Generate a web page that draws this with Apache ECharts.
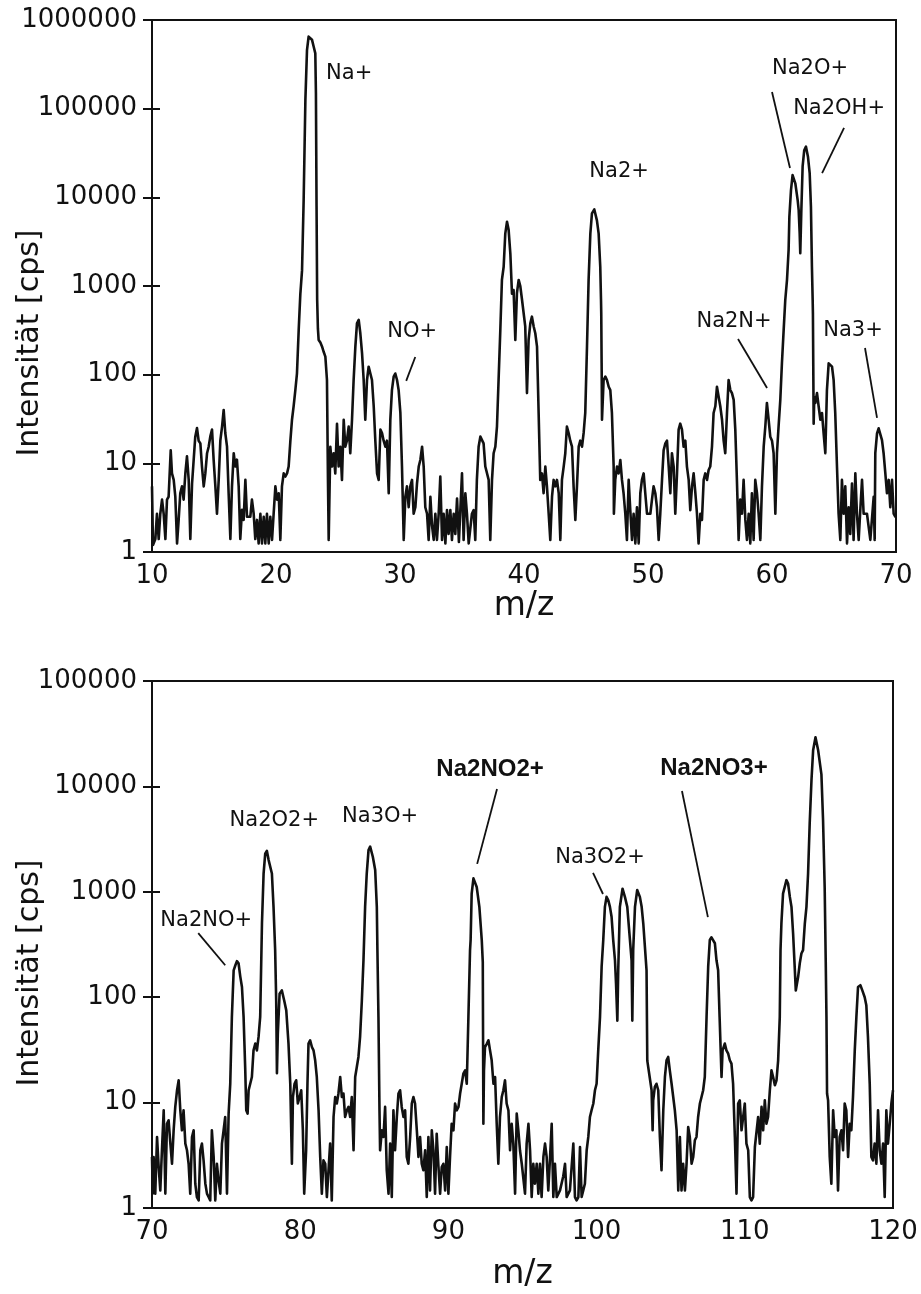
<!DOCTYPE html>
<html>
<head>
<meta charset="utf-8">
<title>SIMS-Spektrum</title>
<script src="https://cdn.jsdelivr.net/npm/echarts@6/dist/echarts.min.js"></script>
<style>
  html, body { margin: 0; padding: 0; background: #fff; }
  #chart { width: 921px; height: 1294px; }
</style>
</head>
<body>
<div id="chart"></div>
<script>
// Spectrum m/z 10–70: [m/z, intensity in cps]
const topSpectrum = [
  [10.00,5.5],[10.08,1.2],[10.27,1.4],[10.40,2.7],[10.54,1.4],[10.67,2.7],[10.81,3.9],[10.94,2.7],
  [11.08,1.4],[11.21,3.9],[11.34,4.2],[11.51,14],[11.61,7.7],[11.75,6.5],[11.88,4.2],[12.02,1.25],
  [12.15,2.3],[12.28,4.6],[12.42,5.5],[12.55,3.9],[12.69,7.7],[12.82,12],[12.96,6.5],[13.09,1.4],
  [13.23,5.9],[13.36,10.9],[13.49,20],[13.63,25],[13.76,18],[13.90,16.8],[14.03,9.2],[14.17,5.5],
  [14.30,7.7],[14.44,13],[14.57,15.4],[14.70,20],[14.84,24],[14.97,11],[15.11,5.5],[15.24,2.7],
  [15.38,6.5],[15.51,18],[15.65,26],[15.78,40],[15.91,22],[16.05,15.4],[16.18,4.6],[16.32,1.4],
  [16.45,5.5],[16.59,13],[16.72,9.2],[16.85,11],[16.99,5.5],[17.12,1.4],[17.26,3],[17.39,2.3],
  [17.53,6.5],[17.66,2.5],[17.93,2.5],[18.06,3.9],[18.20,2.7],[18.33,1.4],[18.47,2.3],[18.60,1.25],
  [18.74,2.7],[18.87,1.25],[19.01,2.5],[19.14,1.25],[19.27,2.7],[19.41,1.25],[19.54,2.5],[19.68,1.37],
  [19.81,2.7],[19.95,5.5],[20.08,3.9],[20.22,4.6],[20.35,1.37],[20.48,5.5],[20.62,7.7],[20.75,7.1],
  [20.89,7.7],[21.02,9.2],[21.16,18],[21.29,31],[21.42,44],[21.56,67],[21.69,103],[21.83,318],
  [21.96,800],[22.10,1500],[22.23,9300],[22.37,126000],[22.50,457000],[22.63,650000],[22.77,676000],
  [22.90,600000],[23.04,500000],[23.17,420000],[23.22,150000],[23.27,8000],[23.32,700],[23.38,330],
  [23.44,246],[23.58,230],[23.71,208],[23.85,180],[23.98,160],[24.11,87],[24.19,6.5],[24.25,1.37],
  [24.38,15.4],[24.52,9.2],[24.65,13],[24.78,7.7],[24.92,28],[25.05,9.2],[25.19,15.4],[25.32,6.5],
  [25.46,31],[25.59,15.4],[25.72,18],[25.86,26],[25.99,13],[26.13,31],[26.26,87],[26.40,207],
  [26.53,379],[26.67,414],[26.80,293],[26.94,174],[27.07,87],[27.20,31],[27.34,87],[27.47,123],
  [27.61,103],[27.74,87],[27.88,44],[28.01,18],[28.15,7.7],[28.28,6.5],[28.42,24],[28.55,22],
  [28.68,18],[28.82,15.4],[28.95,18],[29.09,4.6],[29.22,31],[29.35,67],[29.49,95],[29.62,103],
  [29.76,87],[29.89,67],[30.03,37],[30.16,9.2],[30.30,1.37],[30.43,4.2],[30.56,5.5],[30.70,3.2],
  [30.83,5.5],[30.97,6.5],[31.10,2.7],[31.24,3.2],[31.37,5.9],[31.51,9.2],[31.64,10.9],[31.78,15.4],
  [31.91,9.2],[32.04,3.2],[32.18,2.7],[32.31,1.37],[32.45,4.2],[32.58,2],[32.72,1.37],[32.85,2.7],
  [32.98,1.37],[33.12,2.7],[33.25,7.1],[33.39,1.37],[33.52,2.7],[33.66,1.25],[33.79,2.97],[33.92,1.6],
  [34.06,2.97],[34.19,1.37],[34.33,2.7],[34.46,1.6],[34.60,4],[34.75,1.3],[35.00,7.7],[35.13,1.37],
  [35.27,4.6],[35.40,2.7],[35.54,1.25],[35.80,2.7],[35.94,2.97],[36.07,1.37],[36.20,6.5],[36.34,15.4],
  [36.48,20],[36.61,20],[36.74,16.8],[36.88,9.2],[37.01,9.2],[37.15,6.5],[37.28,1.37],[37.42,6.5],
  [37.55,13],[37.69,15.4],[37.82,26],[37.95,87],[38.09,318],[38.22,1170],[38.36,1650],[38.49,3900],
  [38.63,5300],[38.76,4300],[38.90,2300],[39.03,820],[39.16,900],[39.30,246],[39.43,830],[39.57,1170],
  [39.70,1000],[39.84,700],[39.97,695],[40.10,350],[40.24,62],[40.37,246],[40.51,379],[40.64,451],
  [40.78,350],[40.91,293],[41.05,207],[41.18,37],[41.31,6.5],[41.45,7.7],[41.58,4.6],[41.72,9.2],
  [41.85,5.5],[41.99,2.7],[42.12,1.37],[42.26,4.2],[42.39,6.5],[42.53,5.5],[42.66,6.5],[42.80,4.6],
  [42.93,1.37],[43.06,6.5],[43.20,9.2],[43.33,13],[43.46,26],[43.60,22],[43.73,18],[43.87,15.4],
  [44.00,5.5],[44.14,2.3],[44.27,5.5],[44.41,15.4],[44.54,18],[44.68,15.4],[44.81,22],[44.94,37],
  [45.08,207],[45.21,1170],[45.35,3900],[45.48,6600],[45.67,7300],[45.88,5500],[46.02,3900],[46.15,1650],
  [46.21,700],[46.23,490],[46.26,135],[46.29,31],[46.42,87],[46.56,95],[46.69,87],[46.83,73],
  [46.96,67],[47.09,37],[47.23,9.2],[47.25,2.7],[47.36,6.5],[47.50,9.2],[47.63,7.7],[47.77,10.9],
  [47.90,6.5],[48.03,4.6],[48.17,2.7],[48.30,1.37],[48.44,6.5],[48.57,2.97],[48.71,1.37],[48.84,2.7],
  [48.98,1.25],[49.11,3.2],[49.25,1.25],[49.38,4.6],[49.51,6.5],[49.65,7.7],[49.78,4.6],[49.92,2.7],
  [50.05,2.7],[50.19,2.7],[50.32,3.9],[50.45,5.5],[50.59,4.6],[50.72,3.2],[50.86,1.37],[50.99,2.7],
  [51.13,6.5],[51.26,14],[51.40,16.8],[51.53,18],[51.67,9.2],[51.80,4.6],[51.93,13],[52.07,9.2],
  [52.20,2.7],[52.34,7.7],[52.47,24],[52.60,28],[52.74,24],[52.87,15.4],[53.01,18],[53.14,9.2],
  [53.28,6.5],[53.41,2.97],[53.55,5.5],[53.68,7.7],[53.82,4.6],[53.95,2.7],[54.08,1.25],[54.22,2.7],
  [54.35,2.3],[54.49,6.5],[54.62,7.7],[54.76,6.5],[54.89,8.4],[55.02,9.2],[55.16,15.4],[55.29,37],
  [55.43,44],[55.56,73],[55.70,56],[55.83,44],[55.97,31],[56.10,18],[56.23,13],[56.37,37],
  [56.50,87],[56.64,67],[56.77,62],[56.91,52],[57.04,24],[57.17,6.5],[57.31,1.37],[57.44,3.9],
  [57.58,2.7],[57.71,6.5],[57.85,2.3],[57.98,1.37],[58.12,2.7],[58.25,1.25],[58.38,4.6],[58.52,1.37],
  [58.65,6.5],[58.79,4.6],[58.92,2.7],[59.06,1.37],[59.19,5.5],[59.33,15.4],[59.46,26],[59.59,48],
  [59.73,31],[59.86,20],[60.00,18],[60.13,13],[60.27,2.7],[60.40,13],[60.53,26],[60.67,52],
  [60.80,134],[60.94,318],[61.07,695],[61.21,1170],[61.34,2560],[61.40,6000],[61.53,12000],[61.66,17800],
  [61.88,14400],[62.07,9300],[62.15,7200],[62.23,4000],[62.28,2340],[62.36,6600],[62.47,22300],[62.60,34000],
  [62.74,37300],[62.90,28700],[63.04,18600],[63.14,7800],[63.22,1650],[63.28,695],[63.30,490],[63.36,28],
  [63.41,56],[63.49,48],[63.63,62],[63.76,44],[63.90,31],[64.03,37],[64.16,22],[64.30,13],
  [64.43,67],[64.57,134],[64.70,140],[64.84,123],[64.97,87],[65.10,37],[65.24,9.2],[65.37,2.7],
  [65.51,1.37],[65.64,6.5],[65.78,2.7],[65.91,5.5],[66.05,1.25],[66.18,3.2],[66.31,1.6],[66.45,5.9],
  [66.58,1.37],[66.72,7.7],[66.85,2.7],[66.99,1.37],[67.12,2.97],[67.26,6.5],[67.39,2.7],[67.52,2.7],
  [67.66,2.7],[67.93,1.37],[68.20,4.2],[68.28,1.37],[68.33,13],[68.47,21.8],[68.60,24.8],[68.74,23.8],
  [68.87,18.3],[69.00,13],[69.14,7.7],[69.27,4.6],[69.41,6.5],[69.54,3.2],[69.68,6.5],[69.81,2.7],
  [69.94,2.5],[70.00,2.5]
];

// Spectrum m/z 70–120: [m/z, intensity in cps]
const bottomSpectrum = [
  [70.00,3.05],[70.05,1.37],[70.11,3.05],[70.22,1.37],[70.34,4.72],[70.45,2.45],[70.56,1.47],[70.67,3.53],
  [70.79,8.45],[70.90,1.37],[71.01,6.3],[71.12,6.8],[71.24,4.08],[71.35,2.63],[71.46,5.46],[71.57,9.1],
  [71.69,13.1],[71.80,16.3],[71.91,8.45],[72.02,5.46],[72.13,8.45],[72.25,4.08],[72.36,3.53],[72.47,2.63],
  [72.58,1.37],[72.70,4.72],[72.81,5.46],[72.92,1.7],[73.03,1.27],[73.15,1.18],[73.26,3.53],[73.37,4.08],
  [73.48,2.83],[73.60,1.7],[73.71,1.37],[73.82,1.27],[73.93,1.18],[74.04,5.46],[74.16,3.05],[74.27,1.18],
  [74.38,2.63],[74.49,1.83],[74.61,1.37],[74.72,4.08],[74.83,5.46],[74.94,7.3],[75.06,1.37],[75.17,7.86],
  [75.28,15.1],[75.39,65],[75.51,180],[75.62,200],[75.73,220],[75.84,210],[75.96,156],[76.07,125],
  [76.18,65],[76.29,21],[76.36,8.45],[76.45,7.86],[76.52,13.1],[76.63,13.1],[76.74,17.5],[76.85,31.3],
  [76.97,36.3],[77.08,31.3],[77.19,42],[77.30,65],[77.42,500],[77.53,1490],[77.64,2300],[77.75,2450],
  [77.87,2000],[78.09,1490],[78.20,720],[78.31,280],[78.38,93],[78.43,19],[78.49,45],[78.61,108],
  [78.76,116],[78.92,93],[79.06,75],[79.21,36.3],[79.33,15.1],[79.44,2.63],[79.51,11.3],[79.62,15.1],
  [79.73,16.3],[79.84,9.8],[79.96,11.3],[80.07,13.1],[80.18,5.46],[80.27,1.37],[80.40,3.53],[80.49,15.1],
  [80.56,36.3],[80.67,39],[80.79,33.7],[80.90,31.3],[81.01,25.2],[81.12,17.5],[81.24,8.45],[81.35,3.05],
  [81.46,1.37],[81.57,2.83],[81.69,2.63],[81.80,1.27],[81.91,1.27],[82.02,4.08],[82.13,1.18],[82.25,7.3],
  [82.36,11.3],[82.47,9.8],[82.58,12.2],[82.70,17.5],[82.81,11.3],[82.92,12.2],[83.03,7.3],[83.15,8.45],
  [83.26,9.1],[83.37,7.3],[83.48,11.3],[83.60,3.53],[83.71,17.5],[83.82,21.8],[83.93,27.1],[84.04,42],
  [84.16,93],[84.27,225],[84.38,720],[84.49,1490],[84.61,2490],[84.72,2680],[84.90,2150],[85.06,1610],
  [85.17,720],[85.21,280],[85.28,65],[85.35,8.45],[85.39,3.53],[85.51,5.46],[85.62,4.72],[85.73,9.1],
  [85.84,2.28],[85.96,1.37],[86.07,4.08],[86.18,1.27],[86.29,8.45],[86.40,3.53],[86.52,7.3],[86.63,12.2],
  [86.74,13.1],[86.85,9.1],[86.97,7.3],[87.08,8.45],[87.19,3.05],[87.30,2.63],[87.42,4.72],[87.53,9.8],
  [87.64,11.3],[87.75,9.8],[87.87,5.46],[87.98,3.05],[88.09,4.72],[88.20,2.63],[88.31,2.28],[88.43,3.53],
  [88.54,1.27],[88.65,4.72],[88.76,1.47],[88.88,5.46],[88.99,3.53],[89.10,1.37],[89.21,5.07],[89.33,2.45],
  [89.44,1.37],[89.55,2.45],[89.66,2.63],[89.78,1.47],[89.89,3.79],[90.00,1.37],[90.11,3.05],[90.22,6.3],
  [90.34,5.46],[90.45,9.8],[90.56,8.45],[90.68,9.1],[90.79,12.2],[90.90,15.1],[91.01,18.8],[91.13,20.2],
  [91.24,15.1],[91.35,65],[91.46,280],[91.50,350],[91.57,960],[91.69,1340],[91.80,1380],[91.91,1110],
  [92.09,720],[92.25,350],[92.32,215],[92.36,6.3],[92.40,20],[92.47,33.7],[92.60,36.3],[92.70,39],
  [92.81,31.3],[92.92,25.2],[93.04,15.1],[93.15,17.5],[93.26,6.3],[93.37,2.63],[93.48,7.3],[93.60,11.3],
  [93.71,13.1],[93.82,16.3],[93.93,9.8],[94.05,8.45],[94.16,3.53],[94.27,6.3],[94.38,4.08],[94.50,1.37],
  [94.61,7.86],[94.72,5.46],[94.83,3.53],[94.95,2.63],[95.06,2.63],[95.17,1.37],[95.28,4.08],[95.40,6.3],
  [95.51,3.53],[95.62,1.27],[95.73,2.63],[95.84,1.7],[95.96,2.63],[96.07,1.37],[96.18,2.63],[96.29,1.27],
  [96.41,3.05],[96.52,4.08],[96.63,3.05],[96.74,1.47],[96.86,3.05],[96.97,6.3],[97.08,1.27],[97.19,2.63],
  [97.31,1.27],[97.42,1.27],[97.53,1.47],[97.75,2.0],[97.87,2.63],[97.98,1.27],[98.20,1.47],[98.43,4.08],
  [98.54,1.27],[98.65,1.18],[98.77,1.27],[98.88,3.79],[98.99,1.27],[99.10,1.47],[99.21,1.7],[99.33,3.53],
  [99.44,4.72],[99.55,7.3],[99.66,8.45],[99.78,9.8],[99.89,13.1],[100.00,15.1],[100.11,31.3],[100.23,65],
  [100.34,195],[100.45,350],[100.56,720],[100.67,895],[100.79,830],[100.90,720],[101.01,580],[101.12,350],
  [101.24,224],[101.31,135],[101.40,60],[101.46,180],[101.57,720],[101.75,1070],[101.91,895],[102.07,720],
  [102.25,350],[102.36,224],[102.41,60],[102.47,280],[102.59,720],[102.74,1040],[102.92,895],[103.04,720],
  [103.15,500],[103.26,300],[103.37,180],[103.42,25],[103.71,13.1],[103.78,5.46],[103.82,10.5],[103.93,14.1],
  [104.04,15.1],[104.16,13.1],[104.27,4.72],[104.38,2.28],[104.50,8.45],[104.61,17.5],[104.72,25.2],[104.83,27.1],
  [104.94,20.2],[105.06,15.1],[105.17,11.3],[105.28,8.45],[105.40,5.46],[105.51,1.47],[105.62,4.72],[105.73,1.47],
  [105.84,2.63],[105.96,1.47],[106.07,2.63],[106.18,5.87],[106.29,4.72],[106.41,2.63],[106.52,3.05],[106.63,4.39],
  [106.74,4.72],[106.85,7.3],[106.97,9.8],[107.08,11.3],[107.19,13.1],[107.30,17.5],[107.42,65],[107.53,195],
  [107.64,350],[107.75,370],[107.87,370],[107.98,325],[108.09,224],[108.20,180],[108.30,65],[108.43,17.5],
  [108.50,31.3],[108.65,36.3],[108.76,31.3],[108.88,29.1],[108.99,25.2],[109.10,23.4],[109.21,15.1],[109.33,4.72],
  [109.44,1.37],[109.55,9.8],[109.66,10.5],[109.78,5.46],[109.89,5.46],[110.00,9.8],[110.11,4.08],[110.23,3.53],
  [110.34,1.27],[110.45,1.18],[110.56,1.27],[110.68,3.79],[110.79,3.79],[110.90,7.3],[111.01,4.08],[111.13,9.1],
  [111.24,5.46],[111.35,10.5],[111.46,6.3],[111.57,7.3],[111.69,13.1],[111.80,20.2],[111.91,17.5],[112.03,14.6],
  [112.14,16.3],[112.25,25.2],[112.36,65],[112.41,280],[112.47,500],[112.58,960],[112.81,1290],[112.92,1200],
  [113.04,895],[113.15,720],[113.26,400],[113.37,190],[113.44,116],[113.60,156],[113.71,210],[113.82,260],
  [113.93,280],[114.05,500],[114.16,720],[114.27,1490],[114.38,4500],[114.50,11500],[114.61,22000],[114.77,29300],
  [114.95,22000],[115.17,13000],[115.28,4800],[115.39,1100],[115.46,224],[115.51,65],[115.55,12.2],[115.62,10.5],
  [115.73,3.05],[115.84,1.7],[115.96,8.45],[116.07,4.72],[116.18,5.46],[116.29,1.47],[116.40,4.72],[116.52,5.46],
  [116.63,3.53],[116.74,9.8],[116.85,8.45],[116.97,3.05],[117.08,6.3],[117.19,5.46],[117.30,11.3],[117.42,31.3],
  [117.53,65],[117.64,125],[117.80,130],[117.93,116],[118.09,100],[118.20,84],[118.31,42],[118.43,15.1],
  [118.54,3.05],[118.65,2.83],[118.76,4.08],[118.88,2.63],[118.99,8.45],[119.10,3.53],[119.22,2.63],[119.33,4.08],
  [119.44,1.27],[119.55,8.45],[119.66,4.08],[119.78,6.3],[119.89,9.8],[120.00,13.1]
];

// Axis ranges and tick labels
const topXRange = [10, 70];
const bottomXRange = [70, 120];
const topYTicks = [1, 10, 100, 1000, 10000, 100000, 1000000];
const bottomYTicks = [1, 10, 100, 1000, 10000, 100000];
const xName = 'm/z';
const yName = 'Intensität [cps]';

// Peak labels: [text, m/z, intensity, bold]
const topPeakLabels = [
  ['Na+', 25.9, 245000, false],
  ['NO+', 30.98, 302, false],
  ['Na2+', 47.67, 19300, false],
  ['Na2O+', 63.07, 280000, false],
  ['Na2OH+', 65.41, 99100, false],
  ['Na2N+', 56.94, 393, false],
  ['Na3+', 66.53, 311, false]
];
const bottomPeakLabels = [
  ['Na2NO+', 73.66, 527, false],
  ['Na2O2+', 78.25, 4690, false],
  ['Na3O+', 85.39, 5120, false],
  ['Na2NO2+', 92.81, 14300, true],
  ['Na3O2+', 100.23, 2090, false],
  ['Na2NO3+', 107.92, 14600, true]
];

// Leader lines from a label towards its peak: [[m/z, cps], [m/z, cps]]
const topLeaders = [
  [[31.23, 158], [30.5, 85]],
  [[60.0, 154000], [61.45, 21400]],
  [[65.81, 60700], [64.04, 18800]],
  [[57.26, 253], [59.6, 70.7]],
  [[67.5, 200], [68.47, 32.5]]
];
const bottomLeaders = [
  [[73.12, 406], [74.94, 201]],
  [[93.28, 9460], [91.94, 1840]],
  [[99.76, 1510], [100.43, 953]],
  [[105.76, 9040], [107.51, 575]]
];

const INK = '#111';
const FONT = 'DejaVu Sans';

function xAxisFor(gridIndex, range, nameGap) {
  return {
    type: 'value', gridIndex, min: range[0], max: range[1], interval: 10,
    name: xName, nameLocation: 'middle', nameGap,
    nameTextStyle: { fontFamily: FONT, fontSize: 33, color: INK },
    axisLine: { show: true, onZero: false, lineStyle: { color: INK, width: 2 } },
    axisTick: { show: false },
    splitLine: { show: false },
    axisLabel: { color: INK, fontFamily: FONT, fontSize: 26, margin: 11,
      showMinLabel: true, showMaxLabel: true }
  };
}

function yAxesFor(gridIndex, ticks) {
  const common = {
    type: 'log', logBase: 10, gridIndex, position: 'left',
    min: ticks[0], max: ticks[ticks.length - 1], interval: 1,
    splitLine: { show: false }
  };
  return [
    Object.assign({}, common, {
      axisLine: { show: true, lineStyle: { color: INK, width: 2 } },
      axisTick: { show: true, inside: false, length: 9, lineStyle: { color: INK, width: 2 } },
      axisLabel: { color: INK, fontFamily: FONT, fontSize: 26, margin: 15,
        showMinLabel: true, showMaxLabel: true,
        formatter: v => String(Math.round(v)) }
    }),
    Object.assign({}, common, {
      axisLine: { show: false },
      axisTick: { show: true, inside: true, length: 8, lineStyle: { color: INK, width: 2 } },
      axisLabel: { show: false }
    })
  ];
}

function labelPoints(list) {
  return list.map(([text, mz, v, bold]) => ({
    coord: [mz, v],
    symbolSize: 1,
    itemStyle: { color: 'rgba(0,0,0,0)' },
    label: {
      show: true, position: 'inside', formatter: text, color: INK,
      fontFamily: bold ? 'Liberation Sans' : FONT,
      fontWeight: bold ? 'bold' : 'normal',
      fontSize: bold ? 24 : 21
    }
  }));
}

function leaderLines(list) {
  return list.map(([a, b]) => [{ coord: a }, { coord: b }]);
}

function spectrumSeries(data, xi, yi, labels, leaders) {
  return {
    type: 'line', xAxisIndex: xi, yAxisIndex: yi, data,
    showSymbol: false, symbol: 'none', silent: true, animation: false,
    lineStyle: { color: INK, width: 2.6, join: 'round' },
    markPoint: { silent: true, animation: false, data: labelPoints(labels) },
    markLine: {
      silent: true, animation: false, symbol: ['none', 'none'],
      label: { show: false },
      lineStyle: { color: INK, width: 1.8, type: 'solid' },
      data: leaderLines(leaders)
    }
  };
}

const chart = echarts.init(document.getElementById('chart'), null, { renderer: 'canvas' });

chart.setOption({
  backgroundColor: '#fff',
  animation: false,
  grid: [
    { left: 152, top: 20, width: 744, height: 532, show: true,
      borderColor: INK, borderWidth: 2, backgroundColor: 'transparent', outerBoundsMode: 'none' },
    { left: 152, top: 681, width: 741, height: 527, show: true,
      borderColor: INK, borderWidth: 2, backgroundColor: 'transparent', outerBoundsMode: 'none' }
  ],
  xAxis: [
    xAxisFor(0, topXRange, 23),
    xAxisFor(1, bottomXRange, 50)
  ],
  yAxis: [].concat(yAxesFor(0, topYTicks), yAxesFor(1, bottomYTicks)),
  graphic: [
    { type: 'text', x: 30, y: 343, rotation: Math.PI / 2, silent: true,
      style: { text: yName, font: '30px "DejaVu Sans"', fill: INK, align: 'center', verticalAlign: 'middle' } },
    { type: 'text', x: 30, y: 973, rotation: Math.PI / 2, silent: true,
      style: { text: yName, font: '30px "DejaVu Sans"', fill: INK, align: 'center', verticalAlign: 'middle' } }
  ],
  series: [
    spectrumSeries(topSpectrum, 0, 0, topPeakLabels, topLeaders),
    spectrumSeries(bottomSpectrum, 1, 2, bottomPeakLabels, bottomLeaders)
  ]
});
</script>
</body>
</html>
